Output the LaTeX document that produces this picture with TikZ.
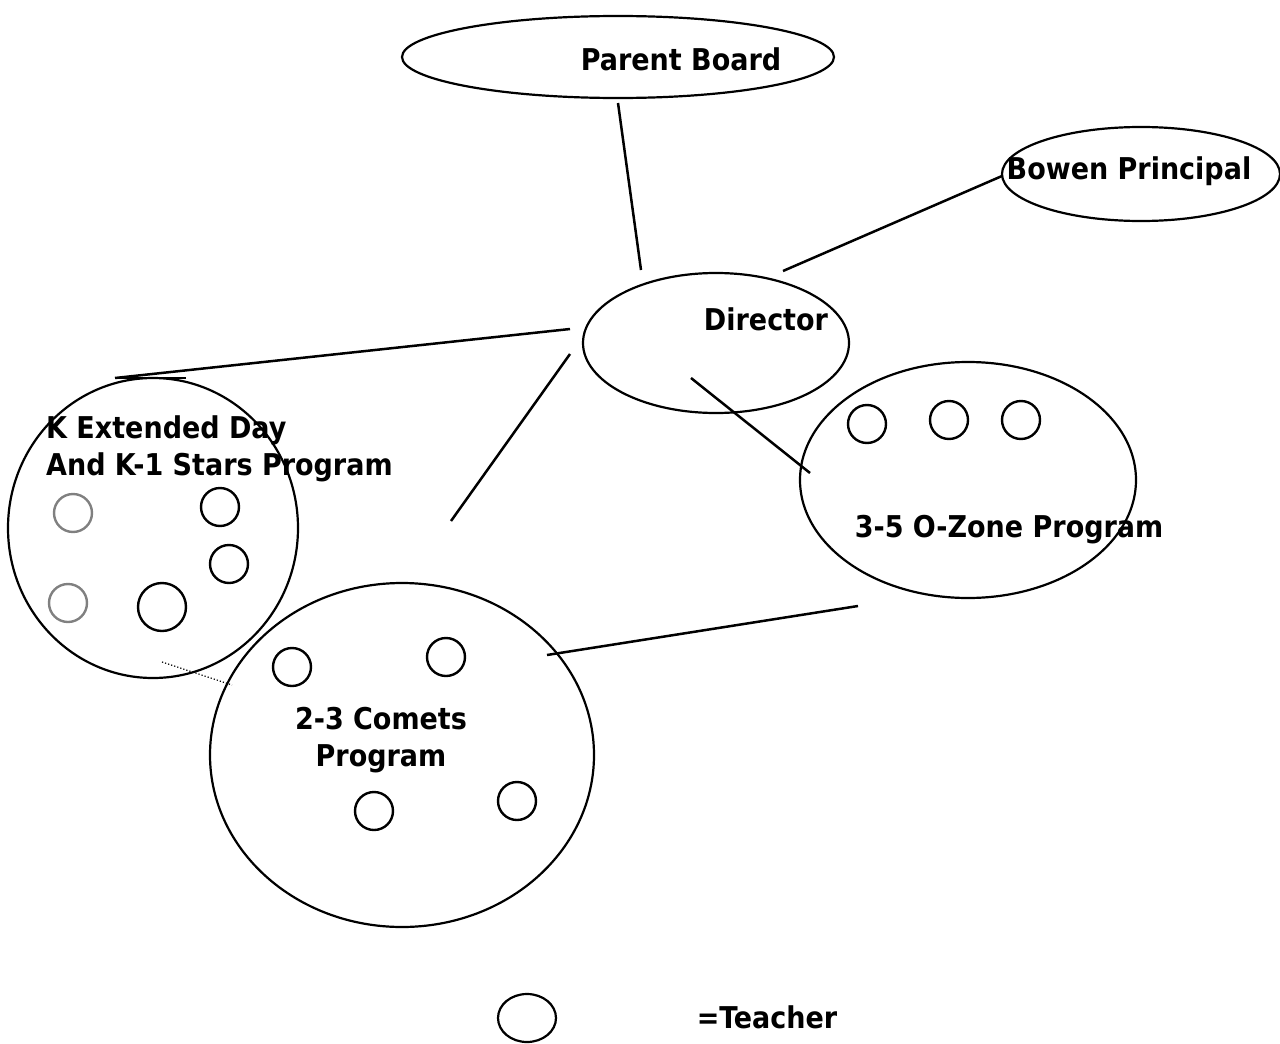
\documentclass[tikz,border=0pt]{standalone}
\usepackage{fontspec}
\setmainfont{DejaVu Sans Condensed}
\usetikzlibrary{shapes.geometric}

\tikzset{
  progbox/.style={draw, ellipse, line width=2.2pt, inner sep=0pt},
  teacher/.style={draw, circle, line width=2.4pt, minimum size=38pt, inner sep=0pt},
  tagtext/.style={font=\fontsize{30}{37}\selectfont\bfseries, inner sep=0pt},
  link/.style={line width=2.5pt}
}

\begin{document}
\begin{tikzpicture}[x=1pt, y=-1pt]
    \useasboundingbox (0,0) rectangle (1280,1044);

    % the big ovals
    \node[progbox, minimum width=432pt, minimum height=82pt] (board) at (618,57) {};
    \node[progbox, minimum width=278pt, minimum height=94pt] (bowen) at (1141,174) {};
    \node[progbox, minimum width=266pt, minimum height=140pt] (director) at (716,343) {};
    \node[progbox, minimum width=290pt, minimum height=300pt] (kday) at (153,528) {};
    \node[progbox, minimum width=384pt, minimum height=344pt] (comets) at (402,755) {};
    \node[progbox, minimum width=336pt, minimum height=236pt] (ozone) at (968,480) {};

    \node[tagtext] (boardtext) at (681,59) {Parent Board};
    \node[tagtext] (bowentext) at (1129,171) {Bowen Principal};
    \node[tagtext] (directortext) at (766,319) {Director};
    \node[tagtext, align=left, anchor=west] (kdaytext) at (46,449) {K Extended Day\\And K-1 Stars Program};
    \node[tagtext, align=center] (cometstext) at (381,740) {2-3 Comets\\ Program};
    \node[tagtext] (ozonetext) at (1009,530) {3-5 O-Zone Program};

    % teachers
    \foreach \name/\x/\y in {k1/73/513, k4/68/603}
      \node[teacher, draw=gray] (\name) at (\x,\y) {};
    \foreach \name/\x/\y in {k2/220/507, k3/229/564, c1/292/667, c2/446/657, c3/374/811, c4/517/801, o1/867/424, o2/949/420, o3/1021/420}
      \node[teacher] (\name) at (\x,\y) {};
    \node[teacher, minimum size=48pt] (k5) at (162,607) {};

    % connectors, they stop short of the ovals
    \coordinate (b1) at (618,103);
    \coordinate (b2) at (641,270);
    \coordinate (p1) at (1002,176);
    \coordinate (p2) at (783,271);
    \coordinate (d1) at (570,329);
    \coordinate (d2) at (115,378);
    \coordinate (d3) at (186,378);
    \coordinate (d4) at (570,354);
    \coordinate (d5) at (451,521);
    \coordinate (d6) at (691,378);
    \coordinate (d7) at (810,473);
    \coordinate (c5) at (547,655);
    \coordinate (c6) at (858,606);
    \coordinate (k6) at (162,662);
    \coordinate (k7) at (232,685);
    \draw[link] (b1) -- (b2);
    \draw[link] (p1) -- (p2);
    \draw[link] (d1) -- (d2);
    \draw[link] (d2) -- (d3);
    \draw[link] (d4) -- (d5);
    \draw[link] (d6) -- (d7);
    \draw[link] (c5) -- (c6);
    \draw[dotted, line width=1.2pt] (k6) -- (k7);

    % legend
    \node[progbox, minimum width=58pt, minimum height=48pt] (key) at (527,1018) {};
    \node[tagtext] (keytext) at (767,1017) {=Teacher};
\end{tikzpicture}
\end{document}
